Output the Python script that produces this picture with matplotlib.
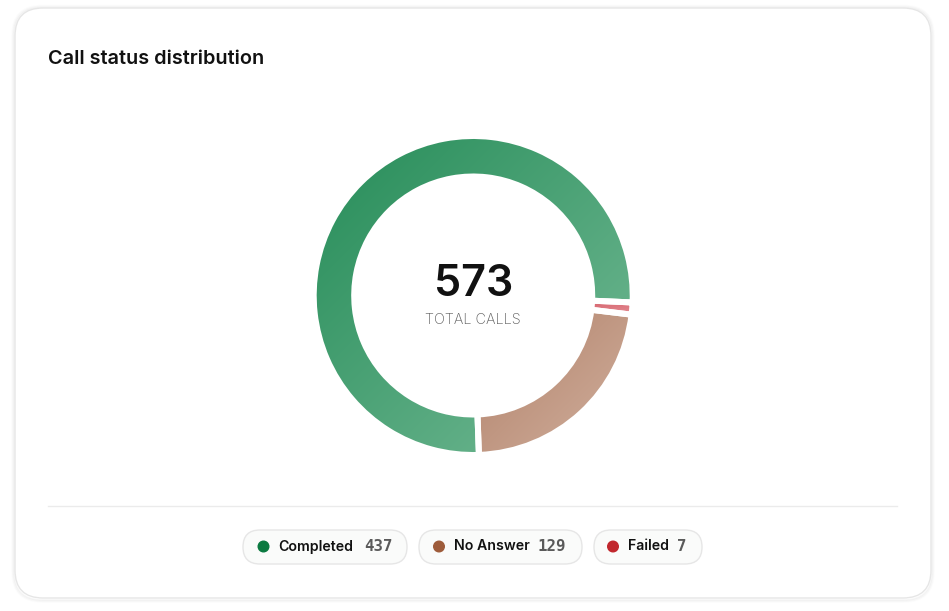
import numpy as np
import matplotlib
matplotlib.use("Agg")
import matplotlib.pyplot as plt
from matplotlib.patches import FancyBboxPatch, Circle
from matplotlib.colors import to_rgb

# ---- data ----
title = "Call status distribution"
categories = ["Completed", "No Answer", "Failed"]
counts = [437, 129, 7]
total_label = "TOTAL CALLS"
dot_colors = ["#0b7a40", "#9e5c3b", "#c1272d"]
grad_start = ["#258c58", "#ae7d65", "#c43440"]
grad_end = ["#76bb97", "#d2b19f", "#e58f96"]

W, H = 949, 611
fig = plt.figure(figsize=(W / 100, H / 100), dpi=100)
fig.patch.set_facecolor("white")

# layout axes in pixel coordinates (y down)
lay = fig.add_axes([0, 0, 1, 1])
lay.set_xlim(0, W)
lay.set_ylim(H, 0)
lay.axis("off")

# soft shadow
for i, a in enumerate([0.035, 0.022, 0.012]):
    sh = FancyBboxPatch((15 - i - 1, 8 - i - 0.5), 916 + 2 * i + 2, 590 + 2 * i + 2.5,
                        boxstyle="round,pad=0,rounding_size=%d" % (28 + i),
                        facecolor="none", edgecolor=(0, 0, 0, a), linewidth=1.2)
    lay.add_patch(sh)
card = FancyBboxPatch((15, 8), 916, 590, boxstyle="round,pad=0,rounding_size=28",
                      facecolor="white", edgecolor="#e6e6e6", linewidth=1.0)
lay.add_patch(card)

lay.text(48, 59, title, fontsize=14.3, family="Inter", fontweight="semibold",
         color="#111111", va="center", ha="left")

# separator
lay.plot([48, 897], [506, 506], color="#ebebeb", linewidth=1.0)

# legend pills
pills = [(243, 407), (419, 582), (594, 702)]
dot_x = [263.5, 439, 613]
label_x = [278, 454, 628]
count_x = [364, 538, 677]
for i, cat in enumerate(categories):
    x0, x1 = pills[i]
    p = FancyBboxPatch((x0, 530), x1 - x0, 34, boxstyle="round,pad=0,rounding_size=17",
                       facecolor="#fafbfa", edgecolor="#e6e6e6", linewidth=1.0)
    lay.add_patch(p)
    lay.add_patch(Circle((dot_x[i], 546.5), 5.3, color=dot_colors[i]))
    lay.text(label_x[i], 546.5, cat, fontsize=10.2, family="Inter", fontweight="semibold",
             color="#111111", va="center", ha="left")
    lay.text(count_x[i], 546.5, str(counts[i]), fontsize=11.3, family="DejaVu Sans Mono",
             fontweight="bold", color="#5a5a5a", va="center", ha="left")

# donut axes: 1 unit = 1 px, centre at (473.2, 295.5)
cx, cy = 473.2, 295.5
S = 175
dax = fig.add_axes([(cx - S) / W, (H - cy - S) / H, 2 * S / W, 2 * S / H])

gap_px = 6.0
r_out = 156.5 + gap_px / 2
r_in = 122.0 - gap_px / 2
wedges, _ = dax.pie(counts, radius=r_out, startangle=-2.5, counterclock=True,
                    wedgeprops=dict(width=r_out - r_in, facecolor="none",
                                    edgecolor="white", linewidth=gap_px * 0.72),
                    frame=True)
dax.set_xlim(-S, S)
dax.set_ylim(-S, S)
dax.set_aspect("equal")
dax.axis("off")

for i, w in enumerate(wedges):
    v = w.get_path().vertices
    xmin, xmax = v[:, 0].min(), v[:, 0].max()
    ymin, ymax = v[:, 1].min(), v[:, 1].max()
    n = 200
    xs = np.linspace(0, 1, n)
    ys = np.linspace(0, 1, n)
    U, V = np.meshgrid(xs, ys)  # V=0 at top
    t = (U + V) / 2.0
    c0 = np.array(to_rgb(grad_start[i]))
    c1 = np.array(to_rgb(grad_end[i]))
    img = c0[None, None, :] * (1 - t[..., None]) + c1[None, None, :] * t[..., None]
    im = dax.imshow(img, extent=(xmin, xmax, ymin, ymax), origin="upper",
                    interpolation="bilinear", zorder=1)
    im.set_clip_path(w)
    w.set_zorder(3)

dax.set_xlim(-S, S)
dax.set_ylim(-S, S)

lay.text(cx, 285, str(sum(counts)), fontsize=31, family="Inter", fontweight="semibold",
         color="#111111", va="center", ha="center")
lay.text(cx, 320, total_label, fontsize=10.4, family="Inter", fontweight="light",
         color="#5f5f5f", va="center", ha="center")
lay.set_zorder(0)
dax.set_zorder(1)
dax.patch.set_visible(False)

fig.savefig("out.png", dpi=100, facecolor="white")
